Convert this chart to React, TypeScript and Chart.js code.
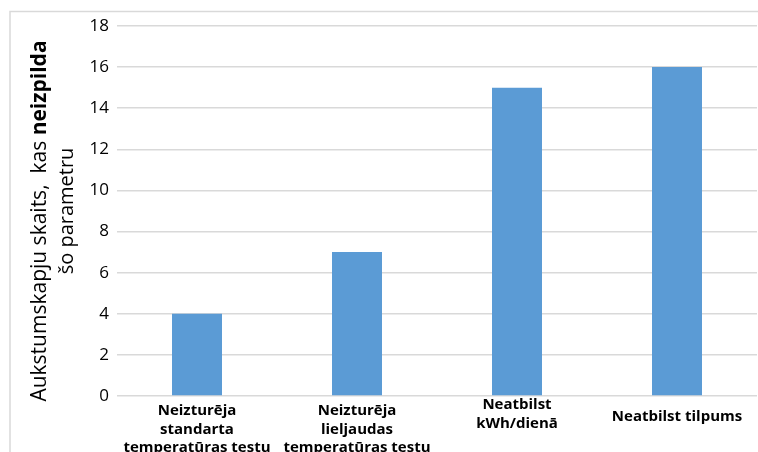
import React, { useEffect, useRef } from "react";
import { Chart, registerables } from "chart.js";

Chart.register(...registerables);

const categories: string[][] = [
  ["Neizturēja", "standarta", "temperatūras testu"],
  ["Neizturēja", "lieljaudas", "temperatūras testu"],
  ["Neatbilst", "kWh/dienā"],
  ["Neatbilst tilpums"],
];
const values: number[] = [4, 7, 15, 16];
const yMax = 18;
const yStep = 2;
const yTitleLine1Normal = "Aukstumskapju skaits,  kas ";
const yTitleLine1Bold = "neizpilda";
const yTitleLine2 = "šo parametru";

const FONT = "'Open Sans', 'Noto Sans', sans-serif";

const framePlugin = {
  id: "frame",
  beforeDraw(chart: any) {
    const ctx = chart.ctx;
    ctx.save();
    ctx.fillStyle = "#ffffff";
    ctx.fillRect(0, 0, chart.width, chart.height);
    ctx.strokeStyle = "#d9d9d9";
    ctx.lineWidth = 1.5;
    ctx.strokeRect(10, 11.5, chart.width + 20, chart.height + 20);
    ctx.restore();
  },
};

const labelsPlugin = {
  id: "xlabels",
  afterDraw(chart: any) {
    const ctx = chart.ctx;
    const xs = chart.scales.x;
    const base = chart.chartArea.bottom;
    ctx.save();
    ctx.fillStyle = "#000000";
    ctx.font = `bold 15px ${FONT}`;
    ctx.textAlign = "center";
    ctx.textBaseline = "middle";
    const firstOffset: Record<number, number> = { 1: 21, 2: 9, 3: 15 };
    categories.forEach((lines, i) => {
      const x = xs.getPixelForValue(i);
      const y0 = base + (firstOffset[lines.length] ?? 15);
      lines.forEach((ln, j) => ctx.fillText(ln, x, y0 + j * 18.5));
    });
    ctx.restore();
  },
};

const yTitlePlugin = {
  id: "ytitle",
  afterDraw(chart: any) {
    const ctx = chart.ctx;
    ctx.save();
    ctx.fillStyle = "#000000";
    ctx.textBaseline = "middle";
    // line 1
    ctx.save();
    ctx.translate(40, 221);
    ctx.rotate(-Math.PI / 2);
    ctx.font = `21px ${FONT}`;
    const w1 = ctx.measureText(yTitleLine1Normal).width;
    ctx.font = `bold 21px ${FONT}`;
    const w2 = ctx.measureText(yTitleLine1Bold).width;
    const start = -(w1 + w2) / 2;
    ctx.textAlign = "left";
    ctx.font = `21px ${FONT}`;
    ctx.fillText(yTitleLine1Normal, start, 0);
    ctx.font = `bold 21px ${FONT}`;
    ctx.fillText(yTitleLine1Bold, start + w1, 0);
    ctx.restore();
    // line 2
    ctx.save();
    ctx.translate(67, 211);
    ctx.rotate(-Math.PI / 2);
    ctx.font = `20px ${FONT}`;
    ctx.textAlign = "center";
    ctx.fillText(yTitleLine2, 0, 0);
    ctx.restore();
    ctx.restore();
  },
};

export default function App() {
  const ref = useRef<HTMLCanvasElement | null>(null);
  useEffect(() => {
    if (!ref.current) return;
    const chart = new Chart(ref.current, {
      type: "bar",
      data: {
        labels: categories.map((c) => c.join(" ")),
        datasets: [
          {
            data: values,
            backgroundColor: "#5B9BD5",
            borderWidth: 0,
            barPercentage: 0.3125,
            categoryPercentage: 1,
          },
        ],
      },
      options: {
        responsive: false,
        animation: false,
        layout: { padding: { top: 26, right: 1, left: 0, bottom: 0 } },
        plugins: { legend: { display: false }, tooltip: { enabled: false }, title: { display: false } },
        scales: {
          x: {
            grid: { display: false },
            border: { display: false },
            ticks: { display: false },
            afterFit: (s: any) => {
              s.height = 56;
            },
          },
          y: {
            min: 0,
            max: yMax,
            ticks: { stepSize: yStep, color: "#000000", font: { family: FONT, size: 17 }, padding: 8 },
            grid: { color: "#d9d9d9", drawTicks: false, lineWidth: 1.5 },
            border: { display: false },
            afterFit: (s: any) => {
              s.width = 117;
            },
          },
        },
      },
      plugins: [framePlugin, labelsPlugin, yTitlePlugin],
    });
    return () => chart.destroy();
  }, []);
  return (
    <div style={{ position: "fixed", left: 0, top: 0, width: 758, height: 452, background: "#fff" }}>
      <canvas ref={ref} width={758} height={452} />
    </div>
  );
}
